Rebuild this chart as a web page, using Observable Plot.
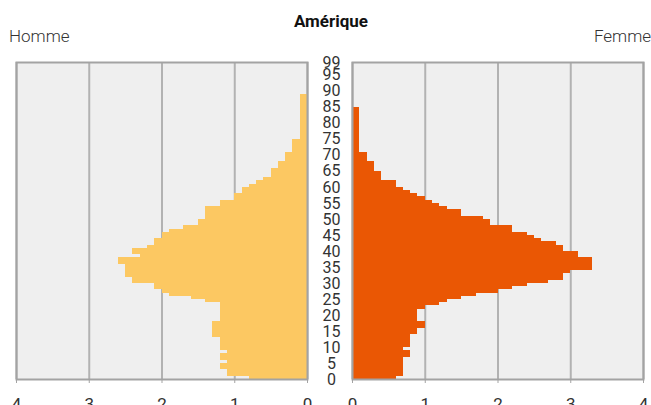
<!DOCTYPE html>
<html>
<head>
<meta charset="utf-8">
<script src="https://cdn.jsdelivr.net/npm/d3@7"></script>
<script src="https://cdn.jsdelivr.net/npm/@observablehq/plot@0.6"></script>
<style>
  body { margin: 0; background: #fff; }
  #chart { position: relative; width: 651px; height: 405px; overflow: hidden; font-family: Roboto, sans-serif; color: #333; }
  .txt { position: absolute; line-height: 1; white-space: nowrap; }
  .plotbox { position: absolute; top: 0; }
</style>
</head>
<body>
<div id="chart">
  <div class="txt" id="title" style="left:0;width:662px;top:13px;text-align:center;font-weight:bold;font-size:17px;color:#111;">Amérique</div>
  <div class="txt" id="lblM" style="left:9px;top:28px;font-size:17px;font-weight:300;">Homme</div>
  <div class="txt" id="lblF" style="right:0px;top:28px;font-size:17px;font-weight:300;">Femme</div>
  <div class="plotbox" id="left" style="left:0;"></div>
  <div class="plotbox" id="right" style="left:310px;"></div>
</div>
<script>
// Single-year ages 0..99
const ages = d3.range(0, 100);
const ageTicks = [0, 5, 10, 15, 20, 25, 30, 35, 40, 45, 50, 55, 60, 65, 70, 75, 80, 85, 90, 95, 99];
const valueTicks = [0, 1, 2, 3, 4];

// Homme (share of population, %), ages 0..99
const homme = [
  0.8, 1.1, 1.1, 1.2, 1.2, 1.1, 1.2, 1.2, 1.1, 1.2,
  1.2, 1.2, 1.2, 1.3, 1.3, 1.3, 1.3, 1.3, 1.2, 1.2,
  1.2, 1.2, 1.2, 1.2, 1.4, 1.6, 1.9, 2.0, 2.1, 2.1,
  2.4, 2.4, 2.5, 2.5, 2.5, 2.5, 2.6, 2.6, 2.3, 2.4,
  2.4, 2.2, 2.1, 2.1, 2.0, 2.0, 1.9, 1.7, 1.5, 1.5,
  1.4, 1.4, 1.4, 1.4, 1.2, 1.2, 1.0, 1.0, 0.9, 0.9,
  0.8, 0.7, 0.6, 0.5, 0.5, 0.5, 0.4, 0.4, 0.3, 0.3,
  0.3, 0.2, 0.2, 0.2, 0.2, 0.1, 0.1, 0.1, 0.1, 0.1,
  0.1, 0.1, 0.1, 0.1, 0.1, 0.1, 0.1, 0.1, 0.1, 0,
  0, 0, 0, 0, 0, 0, 0, 0, 0, 0
];

// Femme (share of population, %), ages 0..99
const femme = [
  0.6, 0.7, 0.7, 0.7, 0.7, 0.7, 0.7, 0.8, 0.8, 0.7,
  0.8, 0.8, 0.8, 0.8, 0.9, 0.9, 1.0, 1.0, 0.9, 0.9,
  0.9, 0.9, 1.0, 1.2, 1.3, 1.5, 1.7, 2.0, 2.2, 2.4,
  2.7, 2.9, 2.9, 3.0, 3.3, 3.3, 3.3, 3.3, 3.1, 3.1,
  2.9, 2.9, 2.8, 2.6, 2.5, 2.4, 2.2, 2.2, 1.9, 1.9,
  1.8, 1.5, 1.5, 1.3, 1.2, 1.1, 1.0, 0.9, 0.8, 0.7,
  0.6, 0.6, 0.4, 0.4, 0.4, 0.3, 0.3, 0.3, 0.2, 0.2,
  0.2, 0.1, 0.1, 0.1, 0.1, 0.1, 0.1, 0.1, 0.1, 0.1,
  0.1, 0.1, 0.1, 0.1, 0.1, 0, 0, 0, 0, 0,
  0, 0, 0, 0, 0, 0, 0, 0, 0, 0
];

const maleData = ages.map((a, i) => ({age: a, v: homme[i]}));
const femaleData = ages.map((a, i) => ({age: a, v: femme[i]}));

const styleBase = {fontFamily: "Roboto, sans-serif", fontSize: "17px", color: "#333", background: "transparent", overflow: "visible"};
const fmt = d => String(d);

const left = Plot.plot({
  width: 330, height: 405,
  marginLeft: 16, marginRight: 23, marginTop: 62, marginBottom: 26,
  x: {domain: [0, 4], reverse: true},
  y: {domain: [0, 99]},
  style: styleBase,
  marks: [
    Plot.frame({fill: "#efefef"}),
    Plot.gridX({ticks: valueTicks, stroke: "#b2b2b2", strokeOpacity: 1, strokeWidth: 2}),
    Plot.rectX(maleData, {x1: 0, x2: "v", y1: "age", y2: d => d.age + 1, fill: "#fcc862", shapeRendering: "crispEdges"}),
    Plot.frame({stroke: "#a3a3a3", strokeWidth: 2}),
    Plot.axisX({ticks: valueTicks, tickFormat: fmt, tickSize: 4, tickPadding: 14, stroke: "#a3a3a3", fill: "#333", label: null}),
    Plot.axisY({ticks: [], label: null})
  ]
});
document.getElementById("left").appendChild(left);

const right = Plot.plot({
  width: 341, height: 405,
  marginLeft: 42, marginRight: 8, marginTop: 62, marginBottom: 26,
  x: {domain: [0, 4]},
  y: {domain: [0, 99]},
  style: styleBase,
  marks: [
    Plot.frame({fill: "#efefef"}),
    Plot.gridX({ticks: valueTicks, stroke: "#b2b2b2", strokeOpacity: 1, strokeWidth: 2}),
    Plot.rectX(femaleData, {x1: 0, x2: "v", y1: "age", y2: d => d.age + 1, fill: "#ea5704", shapeRendering: "crispEdges"}),
    Plot.frame({stroke: "#a3a3a3", strokeWidth: 2}),
    Plot.axisX({ticks: valueTicks, tickFormat: fmt, tickSize: 4, tickPadding: 14, stroke: "#a3a3a3", fill: "#333", label: null}),
    Plot.axisY({ticks: ageTicks, tickFormat: fmt, anchor: "left", tickSize: 0, tickPadding: 21, textAnchor: "middle", fill: "#333", fontSize: 16, label: null})
  ]
});
document.getElementById("right").appendChild(right);
</script>
</body>
</html>
